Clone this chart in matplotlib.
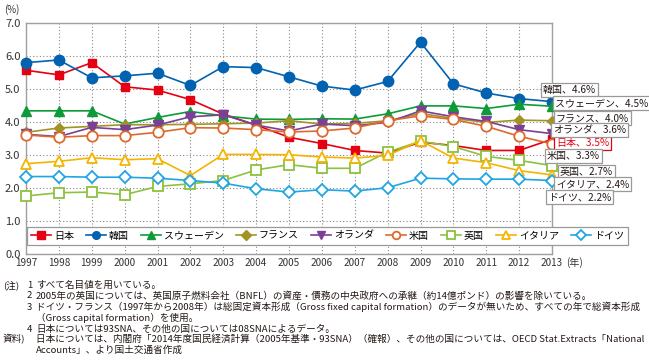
import matplotlib
matplotlib.use('Agg')
import matplotlib.pyplot as plt
import numpy as np

plt.rcParams['font.family'] = ['Noto Sans CJK JP', 'DejaVu Sans']

years = list(range(1997, 2014))

countries = ['日本', '韓国', 'スウェーデン', 'フランス', 'オランダ',
             '米国', '英国', 'イタリア', 'ドイツ']

japan = [5.56, 5.42, 5.79, 5.06, 4.96, 4.67, 4.23, 3.90, 3.53, 3.34,
         3.13, 3.05, 3.38, 3.28, 3.13, 3.13, 3.47]
korea = [5.79, 5.87, 5.33, 5.39, 5.47, 5.10, 5.67, 5.64, 5.36, 5.08,
         4.96, 5.22, 6.41, 5.15, 4.87, 4.70, 4.61]
sweden = [4.33, 4.33, 4.33, 3.93, 4.13, 4.31, 4.18, 4.08, 4.07, 4.09,
          4.08, 4.24, 4.48, 4.48, 4.40, 4.53, 4.47]
france = [3.68, 3.81, 3.86, 3.91, 3.91, 3.92, 3.94, 3.96, 4.03, 3.93,
          3.95, 4.03, 4.25, 4.10, 3.98, 4.05, 4.03]
netherlands = [3.62, 3.55, 3.83, 3.76, 3.90, 4.15, 4.21, 3.90, 3.72, 3.93,
               3.88, 3.98, 4.33, 4.15, 4.01, 3.76, 3.64]
usa = [3.60, 3.53, 3.58, 3.58, 3.68, 3.82, 3.81, 3.76, 3.69, 3.72,
       3.81, 4.03, 4.18, 4.07, 3.86, 3.56, 3.33]
uk = [1.75, 1.85, 1.87, 1.79, 2.04, 2.12, 2.22, 2.54, 2.70, 2.59,
      2.59, 3.08, 3.41, 3.25, 2.95, 2.83, 2.67]
italy = [2.73, 2.80, 2.91, 2.85, 2.88, 2.37, 3.01, 3.01, 3.00, 2.93,
         2.90, 2.98, 3.43, 2.90, 2.76, 2.52, 2.39]
germany = [2.34, 2.34, 2.32, 2.32, 2.29, 2.22, 2.14, 1.97, 1.87, 1.94,
           1.90, 2.00, 2.29, 2.27, 2.26, 2.26, 2.22]

series = [japan, korea, sweden, france, netherlands, usa, uk, italy, germany]

notes = [
    ('(注)', '1', 'すべて名目値を用いている。'),
    ('', '2', '2005年の英国については、英国原子燃料会社（BNFL）の資産・債務の中央政府への承継（約14億ポンド）の影響を除いている。'),
    ('', '3', 'ドイツ・フランス（1997年から2008年）は総固定資本形成（Gross fixed capital formation）のデータが無いため、すべての年で総資本形成'),
    ('', '', '（Gross capital formation）を使用。'),
    ('', '4', '日本については93SNA、その他の国については08SNAによるデータ。'),
    ('資料)', '', '日本については、内閣府「2014年度国民経済計算（2005年基準・93SNA）（確報）、その他の国については、OECD Stat.Extracts「National'),
    ('', '', 'Accounts」、より国土交通省作成'),
]

# styles
colors = ['#e50012', '#0062b1', '#0d9b3a', '#a09425', '#7b3f98',
          '#dd6a2c', '#8dc13f', '#f4b400', '#20a5e4']
markers = ['s', 'o', '^', 'D', 'v', 'o', 's', '^', 'D']
msizes = [6, 7.5, 6.5, 5, 6.5, 7.5, 6.5, 7.5, 6]
filled = [True, True, True, True, True, False, False, False, False]

# label box layout (left x in data, center y in data)
label_pos = [(2013.12, 3.35), (2012.73, 4.96), (2013.09, 4.57),
             (2013.12, 4.11), (2013.03, 3.74), (2012.85, 2.95),
             (2013.24, 2.48), (2013.12, 2.10), (2012.88, 1.71)]

fig = plt.figure(figsize=(6.49, 3.6), dpi=100)
ax = fig.add_axes([26 / 649, 1 - 253.8 / 360, (552 - 26) / 649, (253.8 - 22.7) / 360])

for vals, name, c, m, ms, f in zip(series, countries, colors, markers, msizes, filled):
    ax.plot(years, vals, color=c, marker=m, markersize=ms, linewidth=1.2,
            markerfacecolor=c if f else 'white', markeredgecolor=c,
            markeredgewidth=1.0 if f else 1.3, label=name, clip_on=False, zorder=3)

for vals, name, c, (lx, ly) in zip(series, countries, colors, label_pos):
    is_jp = name == '日本'
    ax.text(lx, ly, '{}、{:.1f}%'.format(name, vals[-1]), fontsize=7.2,
            ha='left', va='center', color=c if is_jp else '#231815',
            bbox=dict(boxstyle='square,pad=0.2', facecolor='white',
                      edgecolor=c if is_jp else '#999999', linewidth=0.9),
            clip_on=False, zorder=5)

ax.set_xlim(1997, 2013)
ax.set_ylim(0, 7)
ax.set_xticks(years)
ax.set_xticklabels([str(y) for y in years])
ax.set_yticks(np.arange(0, 7.1, 1))
ax.set_yticklabels(['{:.1f}'.format(v) for v in np.arange(0, 7.1, 1)])
ax.tick_params(length=0, labelsize=7.2, colors='#333333', pad=3)
ax.tick_params(axis='y', labelsize=8, pad=4)
ax.grid(True, linestyle=(0, (1, 2)), color='#888888', linewidth=0.8)
for s in ax.spines.values():
    s.set_color('#a0a0a0')
    s.set_linewidth(1.0)

fig.text(566 / 649, 1 - 263 / 360, '(年)', fontsize=7.2,
         ha='left', va='center', color='#333333')
fig.text(4 / 649, 1 - 10 / 360, '(%)', fontsize=7, ha='left', va='center',
         color='#333333')

leg = ax.legend(loc='center', bbox_to_anchor=(327.5 / 649, 1 - 235.5 / 360),
                bbox_transform=fig.transFigure, ncol=9, fontsize=7.2,
                handlelength=2.0, handletextpad=0.3, columnspacing=1.2,
                borderpad=0.4, fancybox=False, framealpha=1, edgecolor='#999999')
leg.get_frame().set_linewidth(0.9)
for h in leg.legend_handles:
    h.set_markersize(5.5)

note_fs = 6.9
note_y = [285, 296, 307, 318, 329, 339, 350]
for (head, num, body), y in zip(notes, note_y):
    yy = 1 - y / 360
    if head:
        fig.text(3 / 649, yy, head, fontsize=note_fs, ha='left', va='center', color='#231815')
    if num:
        fig.text(27 / 649, yy, num, fontsize=note_fs, ha='left', va='center', color='#231815')
    fig.text(36 / 649, yy, body, fontsize=note_fs, ha='left', va='center', color='#231815')

fig.savefig('out.png', dpi=100)
